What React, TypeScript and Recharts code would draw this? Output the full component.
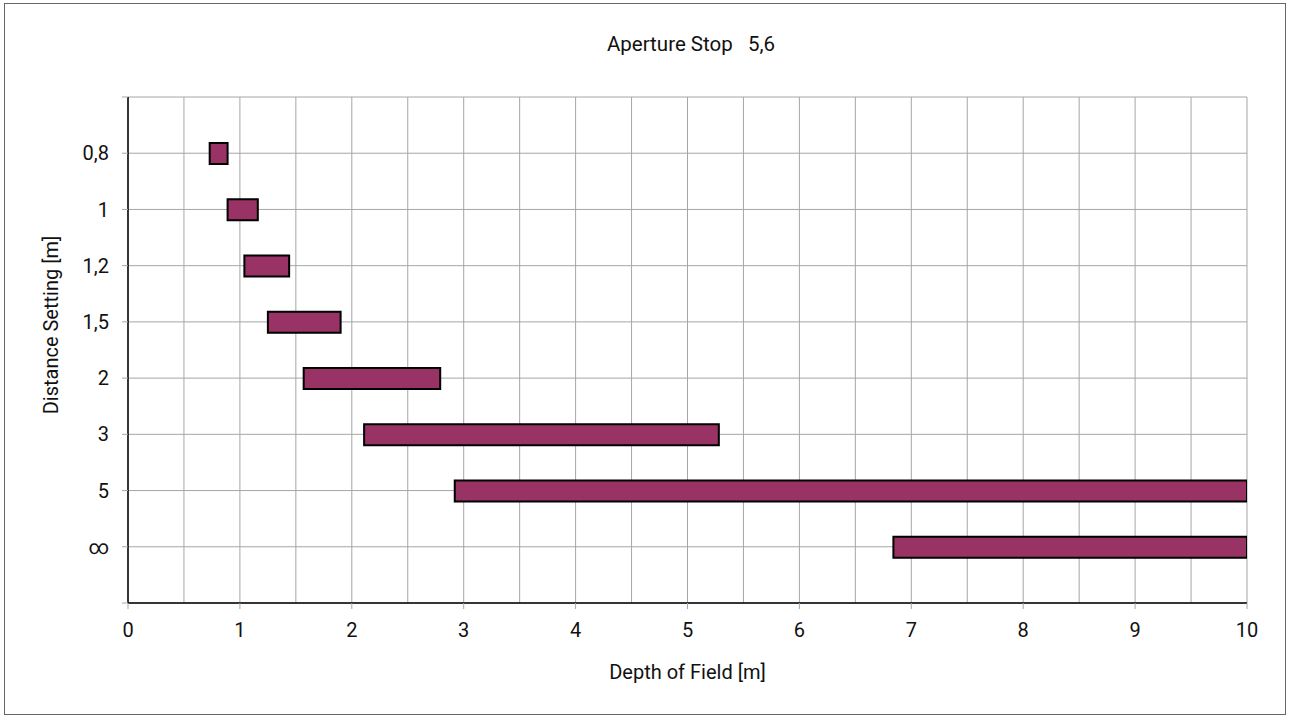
import { Bar, BarChart, CartesianGrid, XAxis, YAxis } from "recharts";

const distanceLabels = ["0,8", "1", "1,2", "1,5", "2", "3", "5", "∞"];
const nearLimits = [0.73, 0.89, 1.04, 1.25, 1.57, 2.11, 2.92, 6.84];
const farLimits = [0.89, 1.16, 1.44, 1.9, 2.79, 5.28, 10, 10];
const depthTicks = [0, 0.5, 1, 1.5, 2, 2.5, 3, 3.5, 4, 4.5, 5, 5.5, 6, 6.5, 7, 7.5, 8, 8.5, 9, 9.5, 10];
const rowTicks = [0, 1, 2, 3, 4, 5, 6, 7, 8, 9];

const rows = distanceLabels.map((label, i) => ({
  label,
  row: i + 1,
  range: [nearLimits[i], farLimits[i]],
}));

const FONT = "Roboto, 'DejaVu Sans', sans-serif";
const GRID = "#a6a6a6";

function DepthTick(props: any) {
  const { x, y, payload } = props;
  if (!Number.isInteger(payload.value)) return null;
  return (
    <g>
      <line x1={x} x2={x} y1={y - 8} y2={y - 2} stroke={GRID} />
      <text x={x} y={y + 26} textAnchor="middle" fill="#111" fontSize={20} fontFamily={FONT}>
        {payload.value}
      </text>
    </g>
  );
}

export default function App() {
  return (
    <div
      style={{
        position: "absolute",
        left: 4,
        top: 3,
        width: 1282,
        height: 712,
        border: "1px solid #666",
        background: "#fff",
        boxSizing: "border-box",
      }}
    >
      <div
        style={{
          position: "absolute",
          left: 0,
          top: 28,
          width: 1372,
          textAlign: "center",
          fontFamily: FONT,
          fontSize: 20.5,
          color: "#111",
          whiteSpace: "pre",
        }}
      >
        {"Aperture Stop   5,6"}
      </div>
      <div style={{ position: "absolute", left: -5, top: -4 }}>
        <BarChart
          width={1290}
          height={716}
          data={rows}
          layout="vertical"
          margin={{ top: 97, right: 43, bottom: 73, left: 48 }}
        >
          <CartesianGrid stroke={GRID} strokeWidth={1} />
          <XAxis
            type="number"
            domain={[0, 10]}
            ticks={depthTicks}
            interval={0}
            allowDataOverflow
            height={40}
            axisLine={{ stroke: "#000", strokeWidth: 1.5 }}
            tickLine={false}
            tick={<DepthTick />}
            label={({ viewBox }: any) => (
              <text
                x={viewBox.x + viewBox.width / 2}
                y={viewBox.y + 76}
                textAnchor="middle"
                fill="#111"
                fontSize={20}
                fontFamily={FONT}
              >
                Depth of Field [m]
              </text>
            )}
          />
          <YAxis
            type="number"
            dataKey="row"
            domain={[0, 9]}
            ticks={rowTicks}
            interval={0}
            width={80}
            axisLine={{ stroke: "#000", strokeWidth: 1.5 }}
            tickLine={{ stroke: GRID }}
            tickSize={6}
            tickMargin={13}
            tick={{ fill: "#111", fontSize: 20, fontFamily: FONT }}
            tickFormatter={(v: number) => distanceLabels[v - 1] ?? ""}
            label={({ viewBox }: any) => {
              const cx = viewBox.x + 3;
              const cy = viewBox.y + viewBox.height / 2 - 25;
              return (
                <text
                  x={cx}
                  y={cy}
                  transform={`rotate(-90, ${cx}, ${cy})`}
                  textAnchor="middle"
                  dominantBaseline="central"
                  fill="#111"
                  fontSize={20}
                  fontFamily={FONT}
                >
                  Distance Setting [m]
                </text>
              );
            }}
          />
          <Bar
            dataKey="range"
            barSize={21}
            fill="#993366"
            stroke="#000"
            strokeWidth={2}
            isAnimationActive={false}
          />
        </BarChart>
      </div>
    </div>
  );
}
